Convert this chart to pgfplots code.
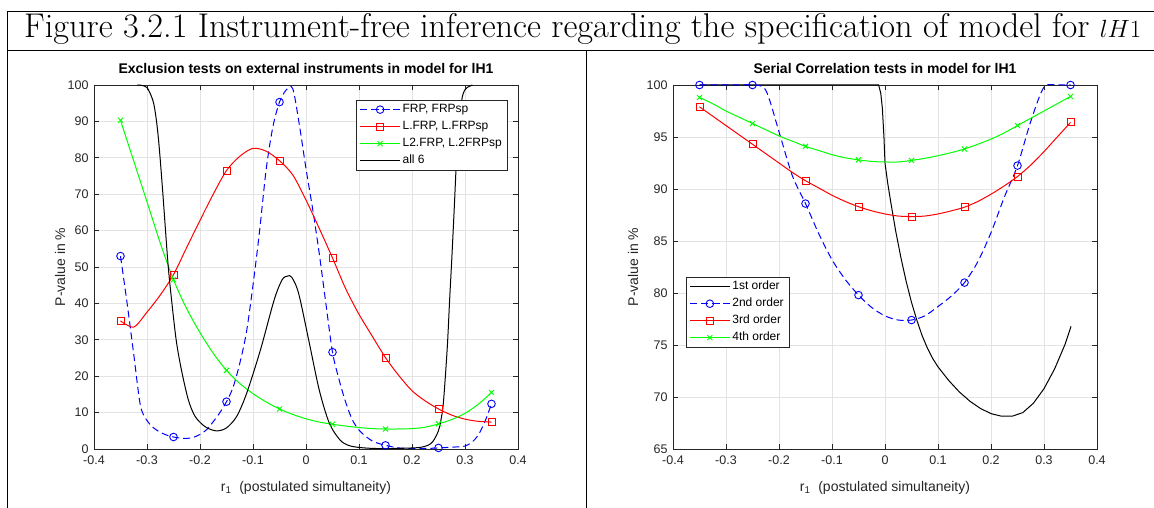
\documentclass[border=0pt]{standalone}
\usepackage{fontspec}
\setsansfont{Liberation Sans}
\usepackage{pgfplots}
\pgfplotsset{compat=1.18}
\definecolor{mgrid}{HTML}{E3E3E3}
\definecolor{maxis}{HTML}{262626}
\definecolor{mblue}{rgb}{0,0,1}
\definecolor{mred}{rgb}{1,0,0}
\definecolor{mgreen}{rgb}{0,1,0}

\pgfplotsset{
  matlab/.style={
    scale only axis, width=424pt, height=364pt,
    xmin=-0.4, xmax=0.4,
    xtick={-0.4,-0.3,-0.2,-0.1,0,0.1,0.2,0.3,0.4},
    xticklabels={-0.4,-0.3,-0.2,-0.1,0,0.1,0.2,0.3,0.4},
    grid=major, major grid style={mgrid, line width=0.6pt},
    axis line style={maxis, line width=0.6pt},
    tick style={maxis, line width=0.6pt},
    tick align=inside, major tick length=5pt,
    xtick pos=both, ytick pos=both,
    /pgf/number format/assume math mode=true,
    tick label style={font=\fontsize{12.5}{14}\selectfont\sffamily, text=maxis},
    yticklabel style={xshift=-2pt},
    xticklabel style={yshift=-3pt},
    label style={font=\fontsize{14}{16}\selectfont\sffamily, text=maxis},
    xlabel={r\textsubscript{1}\ \ (postulated simultaneity)},
    ylabel={P-value in \%},
    x label style={at={(axis description cs:0.5,-0.107)}, anchor=center},
    title style={font=\fontsize{14}{16}\selectfont\sffamily\bfseries, at={(axis description cs:0.5,1.03)}, anchor=center},
    legend style={font=\fontsize{12}{14}\selectfont\sffamily, draw=maxis, row sep=2pt,
      nodes={inner sep=2pt, text height=8.5pt, text depth=2.5pt}},
    legend cell align=left,
    legend image code/.code={\draw[mark repeat=2,mark phase=2,#1] plot coordinates {(0pt,0pt) (20pt,0pt) (40pt,0pt)};},
    every axis plot/.append style={line width=1pt},
  },
  bl/.style={mblue, dash pattern=on 7pt off 4pt, mark=o, mark size=3.8pt, mark options={solid, line width=0.9pt}, smooth},
  rd/.style={mred, mark=square, mark size=3.5pt, mark options={solid, line width=0.9pt}, smooth},
  gr/.style={mgreen, mark=x, mark size=3.6pt, mark options={solid, line width=0.9pt}, smooth},
}

\begin{document}
\begin{tikzpicture}
\useasboundingbox (0pt,0pt) rectangle (1154pt,508pt);
\draw[line width=1pt] (7pt,496pt) -- (1154pt,496pt);
\draw[line width=1pt] (7pt,457pt) -- (1154pt,457pt);
\draw[line width=1pt] (7pt,496pt) -- (7pt,0pt);
\draw[line width=1pt] (586pt,457pt) -- (586pt,0pt);
\node[anchor=base west, inner sep=0pt, font=\fontsize{34.3}{40}\selectfont] at (24pt,470pt)
  {Figure 3.2.1 Instrument-free inference regarding the specification of model for $lH1$};

% left panel
\begin{axis}[matlab, at={(94pt,59pt)}, anchor=south west,
  ymin=0, ymax=100, ytick={0,10,...,100},
  title={Exclusion tests on external instruments in model for lH1},
  ylabel style={at={(axis description cs:-0.080,0.5)}, anchor=center},
  legend style={at={(axis description cs:0.974,0.959)}, anchor=north east}]
\addplot[bl, mark repeat=8] coordinates {
(-0.35,53)(-0.3375,40)(-0.325,26)(-0.3125,12)(-0.3,7.8)(-0.2875,5.8)(-0.275,4.6)(-0.2625,3.8)
(-0.25,3.3)(-0.2375,3.0)(-0.225,2.9)(-0.2125,3.2)(-0.2,4.0)(-0.1875,5.3)(-0.175,7.5)(-0.1625,10)
(-0.15,13)(-0.1375,17)(-0.125,23.5)(-0.1125,32)(-0.1,45)(-0.0875,60)(-0.075,77)(-0.0625,88.5)
(-0.05,95.3)(-0.0375,98.6)(-0.025,99)(-0.0125,89)(0,77)(0.0125,66)(0.025,53.7)(0.0375,40)
(0.05,26.6)(0.0625,19)(0.075,12.8)(0.0875,8)(0.1,5.2)(0.1125,3.5)(0.125,2.2)(0.1375,1.5)
(0.15,1.0)(0.1625,0.6)(0.175,0.3)(0.1875,0.15)(0.2,0.1)(0.2125,0.1)(0.225,0.15)(0.2375,0.2)
(0.25,0.3)(0.2625,0.4)(0.275,0.5)(0.2875,0.6)(0.3,0.8)(0.3125,1.8)(0.325,3.8)(0.3375,7.5)
(0.35,12.4)
};
\addlegendentry{FRP, FRPsp}
\addplot[rd, mark repeat=4] coordinates {
(-0.35,35.2)(-0.325,33.5)(-0.3,37.6)(-0.275,42.3)(-0.25,47.9)(-0.225,55.4)(-0.2,62.8)(-0.175,70)
(-0.15,76.5)(-0.125,80.4)(-0.1,82.6)(-0.075,81.8)(-0.05,79.2)(-0.025,75.3)(0,68.4)(0.025,60.6)
(0.05,52.5)(0.075,44)(0.1,37)(0.125,31)(0.15,25.1)(0.175,20.2)(0.2,16)(0.225,13.2)
(0.25,11)(0.275,9.3)(0.3,8.2)(0.325,7.6)(0.35,7.4)
};
\addlegendentry{L.FRP, L.FRPsp}
\addplot[gr, mark repeat=4] coordinates {
(-0.35,90.3)(-0.325,79.1)(-0.3,67.9)(-0.275,56.6)(-0.25,46.5)(-0.225,38.5)(-0.2,32)(-0.175,26.3)
(-0.15,21.6)(-0.125,18)(-0.1,15.2)(-0.075,12.9)(-0.05,11)(-0.025,9.5)(0,8.3)(0.025,7.4)
(0.05,6.8)(0.075,6.3)(0.1,5.9)(0.125,5.6)(0.15,5.5)(0.175,5.5)(0.2,5.6)(0.225,6.0)
(0.25,6.9)(0.275,8.1)(0.3,9.8)(0.325,12.3)(0.35,15.5)
};
\addlegendentry{L2.FRP, L.2FRPsp}
\addplot[black, smooth] coordinates {
(-0.318,100)(-0.31,99.9)(-0.3,99.3)(-0.292,97)(-0.287,94.7)(-0.282,90)(-0.277,83)(-0.27,70)
(-0.261,52)(-0.255,42.8)(-0.245,30)(-0.235,21.7)(-0.222,13.5)(-0.209,8.9)(-0.19,6.1)(-0.17,5)
(-0.151,5.7)(-0.131,8.9)(-0.112,15.3)(-0.086,27.2)(-0.06,41)(-0.045,46.5)(-0.035,47.5)(-0.027,47.2)
(-0.014,42.8)(0.005,30)(0.025,16.2)(0.044,7.1)(0.064,2.5)(0.08,1.0)(0.096,0.5)(0.12,0.2)
(0.148,0.1)(0.18,0.2)(0.213,0.4)(0.23,1.0)(0.239,2)(0.247,4)(0.252,6.1)(0.258,11)
(0.262,18)(0.267,29)(0.271,41)(0.275,52)(0.28,67)(0.284,79.5)(0.289,89)(0.294,96)
(0.299,98.5)(0.304,99.3)(0.314,100)
};
\addlegendentry{all 6}
\end{axis}

% right panel
\begin{axis}[matlab, at={(673pt,59pt)}, anchor=south west,
  ymin=65, ymax=100, ytick={65,70,...,100},
  title={Serial Correlation tests in model for lH1},
  ylabel style={at={(axis description cs:-0.094,0.5)}, anchor=center},
  legend style={at={(axis description cs:0.031,0.4725)}, anchor=north west}]
\addplot[black] coordinates {
(-0.35,100)(-0.012,100)(-0.008,99.2)(-0.005,97.8)(-0.002,95)(0,92.5)(0.005,90.6)(0.01,89)
(0.02,86)(0.03,83.4)(0.04,81.1)(0.05,79.1)(0.06,77.4)(0.07,75.9)(0.08,74.7)(0.09,73.7)
(0.1,72.9)(0.12,71.6)(0.14,70.5)(0.16,69.6)(0.18,68.9)(0.2,68.4)(0.22,68.15)(0.24,68.15)
(0.26,68.5)(0.28,69.4)(0.3,70.8)(0.32,72.7)(0.34,75.1)(0.351,76.8)
};
\addlegendentry{1st order}
\addplot[bl, mark repeat=4] coordinates {
(-0.35,100)(-0.325,100)(-0.3,100)(-0.275,100)(-0.25,100)(-0.225,99.5)(-0.2,95.5)(-0.175,91.3)
(-0.15,88.6)(-0.125,85.7)(-0.1,83.2)(-0.075,81.3)(-0.05,79.8)(-0.025,78.6)(0,77.8)(0.025,77.4)
(0.05,77.4)(0.075,77.8)(0.1,78.7)(0.125,79.7)(0.15,81.0)(0.175,83.0)(0.2,85.8)(0.225,89.2)
(0.25,92.25)(0.275,96.5)(0.3,99.8)(0.325,100)(0.35,100)
};
\addlegendentry{2nd order}
\addplot[rd, mark repeat=4] coordinates {
(-0.35,97.9)(-0.325,97.0)(-0.3,96.1)(-0.275,95.2)(-0.25,94.3)(-0.225,93.4)(-0.2,92.5)(-0.175,91.6)
(-0.15,90.8)(-0.125,90.1)(-0.1,89.4)(-0.075,88.8)(-0.05,88.3)(-0.025,87.9)(0,87.6)(0.025,87.4)
(0.05,87.35)(0.075,87.4)(0.1,87.6)(0.125,87.9)(0.15,88.25)(0.175,88.8)(0.2,89.5)(0.225,90.3)
(0.25,91.2)(0.275,92.3)(0.3,93.6)(0.325,95.0)(0.35,96.4)
};
\addlegendentry{3rd order}
\addplot[gr, mark repeat=4] coordinates {
(-0.35,98.8)(-0.325,98.2)(-0.3,97.5)(-0.275,96.9)(-0.25,96.3)(-0.225,95.7)(-0.2,95.1)(-0.175,94.6)
(-0.15,94.1)(-0.125,93.7)(-0.1,93.3)(-0.075,93.0)(-0.05,92.8)(-0.025,92.65)(0,92.6)(0.025,92.6)
(0.05,92.75)(0.075,92.95)(0.1,93.2)(0.125,93.5)(0.15,93.85)(0.175,94.3)(0.2,94.8)(0.225,95.4)
(0.25,96.1)(0.275,96.8)(0.3,97.5)(0.325,98.2)(0.35,98.9)
};
\addlegendentry{4th order}
\end{axis}
\end{tikzpicture}
\end{document}
